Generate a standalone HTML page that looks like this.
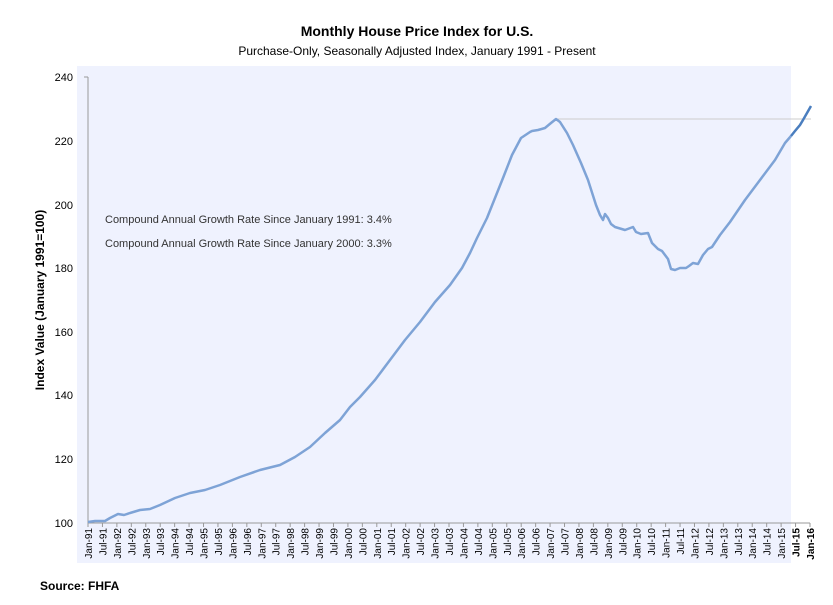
<!DOCTYPE html><html><head><style>body{margin:0;background:#fff}</style></head><body>
<svg width="833" height="600" xmlns="http://www.w3.org/2000/svg" font-family="Liberation Sans, sans-serif">
<rect x="77" y="66" width="714" height="497" fill="#eff2fe"/>
<text x="417" y="36" text-anchor="middle" font-size="14" font-weight="bold">Monthly House Price Index for U.S.</text>
<text x="417" y="55" text-anchor="middle" font-size="12">Purchase-Only, Seasonally Adjusted Index, January 1991 - Present</text>
<text transform="translate(44,300) rotate(-90)" text-anchor="middle" font-size="12" font-weight="bold">Index Value (January 1991=100)</text>
<g font-size="11" text-anchor="end">
<text x="73" y="527">100</text><text x="73" y="463">120</text><text x="73" y="399">140</text><text x="73" y="336">160</text><text x="73" y="272">180</text><text x="73" y="209">200</text><text x="73" y="145">220</text><text x="73" y="81">240</text></g>
<line x1="88" y1="77" x2="88" y2="523" stroke="#999"/>
<line x1="84" y1="77" x2="88" y2="77" stroke="#999"/>
<line x1="88" y1="523" x2="810" y2="523" stroke="#999"/>
<g id="ticks" stroke="#999"></g>
<g id="xl" font-size="10"></g>
<line x1="556" y1="119" x2="811" y2="119" stroke="#ccc"/>
<text x="105" y="223" font-size="11" fill="#333">Compound Annual Growth Rate Since January 1991:  3.4%</text>
<text x="105" y="247" font-size="11" fill="#333">Compound Annual Growth Rate Since January 2000:  3.3%</text>
<polyline fill="none" stroke="#7ea3d6" stroke-width="2.5" stroke-linejoin="round" points="88,522 95,521 105,521 110,518 118,514 124,515 130,513 140,510 150,509 160,505 175,498 190,493 205,490 220,485 240,477 260,470 280,465 295,457 310,447 325,433 340,420 350,407 360,397 375,380 390,360 405,340 420,322 435,302 450,285 462,268 470,253 477,238 487,218 495,198 503,178 512,155 521,138 530,132 532,131 538,130 545,128 551,123 556,119 560,122 567,133 573,145 581,163 588,180 596,205 600,215 603,220 605,214 608,218 611,224 615,227 625,230 633,227 636,232 641,234 648,233 652,243 658,249 662,251 668,259 671,269 675,270 680,268 686,268 689,266 693,263 698,264 703,255 708,249 712,247 720,235 730,222 745,200 760,180 775,160 785,143 791,136"/>
<polyline fill="none" stroke="#4a7ebf" stroke-width="2.5" points="791,136 795,131 800,125 803,120 811,106"/>
<text x="40" y="590" font-size="12" font-weight="bold">Source: FHFA</text>
</svg>
<script>
var t=document.getElementById('ticks'),xl=document.getElementById('xl'),s='';var l='';
for(var i=0;i<=50;i++){var x=88+i*14.44;s+='<line x1="'+x+'" y1="523" x2="'+x+'" y2="527"/>';
var yr=(91+Math.floor(i/2))%100;var lab=(i%2?'Jul-':'Jan-')+(yr<10?'0':'')+yr;
l+='<text transform="translate('+(x+4)+',528) rotate(-90)" text-anchor="end"'+(i>=49?' font-weight="bold"':'')+'>'+lab+'</text>';}
t.innerHTML=s;xl.innerHTML=l;
</script>
</body></html>
